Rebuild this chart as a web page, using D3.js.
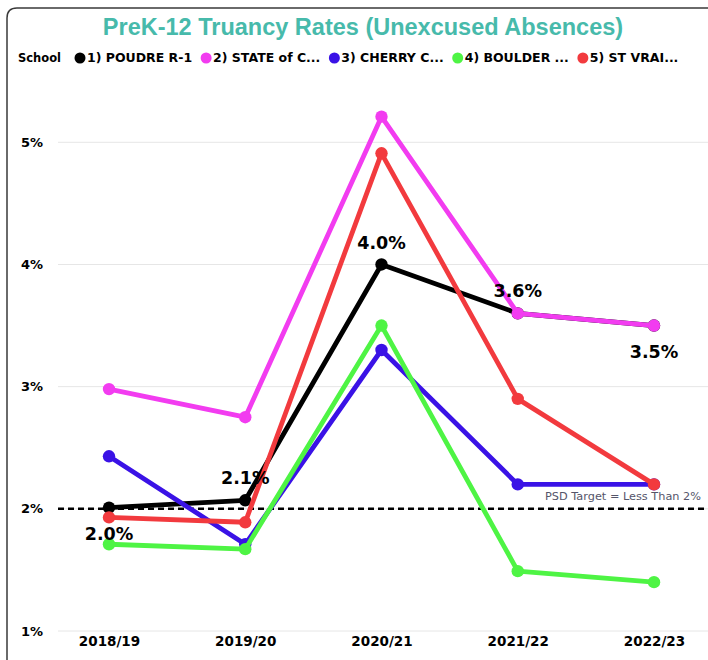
<!DOCTYPE html>
<html>
<head>
<meta charset="utf-8">
<script src="https://cdn.jsdelivr.net/npm/d3@7"></script>
<style>
  body { margin: 0; background: #fff; }
  svg { display: block; }
  text { font-family: "DejaVu Sans", sans-serif; }
</style>
</head>
<body>
<script>
// Chart data
const years = ['2018/19', '2019/20', '2020/21', '2021/22', '2022/23'];
const schools = ['1) POUDRE R-1', '2) STATE of C...', '3) CHERRY C...', '4) BOULDER ...', '5) ST VRAI...'];
const colors = ['#000000', '#f23cf0', '#3a12e6', '#4ef444', '#f23a3e'];
const poudre = [2.01, 2.07, 4.0, 3.6, 3.5];
const stateCo = [2.98, 2.75, 5.21, 3.6, 3.5];
const cherryCreek = [2.43, 1.71, 3.3, 2.2, 2.2];
const boulder = [1.71, 1.67, 3.5, 1.49, 1.4];
const stVrain = [1.93, 1.89, 4.91, 2.9, 2.2];
const yTicks = [1, 2, 3, 4, 5];
const target = 2;
const targetLabel = 'PSD Target = Less Than 2%';
// where Power BI put the POUDRE data labels
const labelSide = ['below', 'above', 'above', 'above', 'below'];

const seriesValues = [poudre, stateCo, cherryCreek, boulder, stVrain];

const W = 708, H = 660;
const svg = d3.select('body').append('svg')
  .attr('width', W)
  .attr('height', H);

// card border (rounded top-left corner)
svg.append('path')
  .attr('d', `M7,${H + 2} L7,18 Q7,8 17,8 L${W + 2},8`)
  .attr('fill', 'none')
  .attr('stroke', '#3a3a3a')
  .attr('stroke-width', 1.5);

// title
svg.append('text')
  .attr('x', 363)
  .attr('y', 35)
  .attr('text-anchor', 'middle')
  .style('font-family', '"Liberation Sans", Arial, sans-serif')
  .style('font-weight', 'bold')
  .style('font-size', '23.5px')
  .attr('fill', '#47baab')
  .text('PreK-12 Truancy Rates (Unexcused Absences)');

// legend
const legend = svg.append('g').attr('transform', 'translate(0,58)');
legend.append('text')
  .attr('x', 18)
  .attr('dy', '0.35em')
  .style('font-weight', 'bold')
  .style('font-size', '11.5px')
  .text('School');
let lx = 80;
schools.forEach((s, i) => {
  legend.append('circle')
    .attr('cx', lx)
    .attr('cy', 0)
    .attr('r', 5.5)
    .attr('fill', colors[i]);
  const t = legend.append('text')
    .attr('x', lx + 7)
    .attr('dy', '0.35em')
    .style('font-weight', 'bold')
    .style('font-size', '12.5px')
    .text(s);
  lx += 7 + t.node().getComputedTextLength() + 14;
});

// scales
const x = d3.scalePoint()
  .domain(years)
  .range([109, 654]);
const y = d3.scaleLinear()
  .domain([1, 5])
  .range([631, 142.3]);

// gridlines
svg.append('g')
  .selectAll('line')
  .data(yTicks)
  .enter().append('line')
  .attr('x1', 58)
  .attr('x2', W)
  .attr('y1', d => y(d))
  .attr('y2', d => y(d))
  .attr('stroke', '#e6e6e6')
  .attr('stroke-width', 1);

// y axis
const yAxis = svg.append('g')
  .attr('transform', 'translate(43,0)')
  .call(d3.axisLeft(y).tickValues(yTicks).tickFormat(d => d + '%').tickSize(0).tickPadding(0));
yAxis.select('.domain').remove();
yAxis.selectAll('text')
  .style('font-family', '"DejaVu Sans", sans-serif')
  .style('font-weight', 'bold')
  .style('font-size', '13px')
  .attr('fill', '#000');

// x axis
const xAxis = svg.append('g')
  .attr('transform', 'translate(0,636)')
  .call(d3.axisBottom(x).tickSize(0).tickPadding(0));
xAxis.select('.domain').remove();
xAxis.selectAll('text')
  .style('font-family', '"DejaVu Sans", sans-serif')
  .style('font-weight', 'bold')
  .style('font-size', '13.5px')
  .attr('fill', '#000');

// target line
svg.append('line')
  .attr('x1', 58)
  .attr('x2', W)
  .attr('y1', y(target))
  .attr('y2', y(target))
  .attr('stroke', '#000')
  .attr('stroke-width', 2.5)
  .attr('stroke-dasharray', '6,4');
svg.append('text')
  .attr('x', 701)
  .attr('y', y(target) - 9)
  .attr('text-anchor', 'end')
  .style('font-size', '11.3px')
  .attr('fill', '#55556a')
  .text(targetLabel);

// series lines + markers
const line = d3.line()
  .x((d, i) => x(years[i]))
  .y(d => y(d));

seriesValues.forEach((vals, si) => {
  const g = svg.append('g');
  g.append('path')
    .datum(vals)
    .attr('d', line)
    .attr('fill', 'none')
    .attr('stroke', colors[si])
    .attr('stroke-width', 4.8)
    .attr('stroke-linejoin', 'round');
  g.selectAll('circle')
    .data(vals)
    .enter().append('circle')
    .attr('cx', (d, i) => x(years[i]))
    .attr('cy', d => y(d))
    .attr('r', 6.2)
    .attr('fill', colors[si]);
});

// POUDRE data labels
svg.append('g')
  .selectAll('text')
  .data(poudre)
  .enter().append('text')
  .attr('x', (d, i) => x(years[i]))
  .attr('y', (d, i) => y(d) + (labelSide[i] === 'above' ? -22 : 26))
  .attr('dy', '0.35em')
  .attr('text-anchor', 'middle')
  .style('font-weight', 'bold')
  .style('font-size', '17.5px')
  .attr('fill', '#000')
  .text(d => d.toFixed(1) + '%');
</script>
</body>
</html>
